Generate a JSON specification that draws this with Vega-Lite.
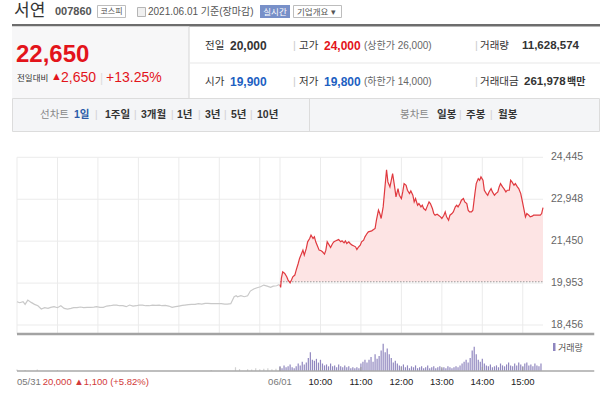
{
"$schema": "https://vega.github.io/schema/vega-lite/v6.json",
"width": 600, "height": 399,
"autosize": {"type": "none"},
"padding": 0,
"background": "white",
"config": {"view": {"stroke": null}, "font": "Liberation Sans, Noto Sans CJK KR", "text": {"baseline": "middle", "align": "left", "font": "Liberation Sans, Noto Sans CJK KR"}},
"data": {"values": [{}]},
"datasets": {
"gridT": [{"t":0},{"t":60},{"t":120},{"t":180},{"t":240},{"t":300},{"t":360},{"t":390},{"t":450},{"t":510},{"t":570},{"t":630},{"t":690},{"t":750}],
"gridP": [{"p":18456},{"p":19953},{"p":21450},{"p":22948},{"p":24445}],
"xl": [{"t":0,"lab":"05/31","kind":"date"},{"t":38,"lab":"20,000 ▲1,100 (+5.82%)","kind":"prev"},{"t":390,"lab":"06/01","kind":"date"},{"t":450,"lab":"10:00","kind":"time"},{"t":510,"lab":"11:00","kind":"time"},{"t":570,"lab":"12:00","kind":"time"},{"t":630,"lab":"13:00","kind":"time"},{"t":690,"lab":"14:00","kind":"time"},{"t":750,"lab":"15:00","kind":"time"}],
"price": [
{"day":"05/31","t":0,"p":19288},{"day":"05/31","t":4,"p":19252},{"day":"05/31","t":9,"p":19288},{"day":"05/31","t":12,"p":19193},{"day":"05/31","t":16,"p":19347},{"day":"05/31","t":21,"p":19264},{"day":"05/31","t":26,"p":19193},{"day":"05/31","t":31,"p":19145},{"day":"05/31","t":36,"p":19027},{"day":"05/31","t":41,"p":19074},{"day":"05/31","t":46,"p":19050},{"day":"05/31","t":50,"p":19086},{"day":"05/31","t":55,"p":19110},{"day":"05/31","t":60,"p":19074},{"day":"05/31","t":65,"p":19145},{"day":"05/31","t":70,"p":19050},{"day":"05/31","t":75,"p":19027},{"day":"05/31","t":80,"p":19050},{"day":"05/31","t":84,"p":19074},{"day":"05/31","t":89,"p":19074},{"day":"05/31","t":94,"p":19098},{"day":"05/31","t":99,"p":19074},{"day":"05/31","t":104,"p":19086},{"day":"05/31","t":109,"p":19086},{"day":"05/31","t":114,"p":19098},{"day":"05/31","t":118,"p":19110},{"day":"05/31","t":123,"p":19086},{"day":"05/31","t":128,"p":19086},{"day":"05/31","t":133,"p":19133},{"day":"05/31","t":138,"p":19145},{"day":"05/31","t":143,"p":19169},{"day":"05/31","t":148,"p":19169},{"day":"05/31","t":152,"p":19145},{"day":"05/31","t":157,"p":19145},{"day":"05/31","t":162,"p":19110},{"day":"05/31","t":167,"p":19169},{"day":"05/31","t":172,"p":19133},{"day":"05/31","t":177,"p":19145},{"day":"05/31","t":181,"p":19169},{"day":"05/31","t":186,"p":19169},{"day":"05/31","t":191,"p":19145},{"day":"05/31","t":196,"p":19145},{"day":"05/31","t":201,"p":19169},{"day":"05/31","t":206,"p":19157},{"day":"05/31","t":211,"p":19169},{"day":"05/31","t":215,"p":19145},{"day":"05/31","t":220,"p":19157},{"day":"05/31","t":225,"p":19133},{"day":"05/31","t":230,"p":19086},{"day":"05/31","t":235,"p":19110},{"day":"05/31","t":240,"p":19133},{"day":"05/31","t":245,"p":19157},{"day":"05/31","t":249,"p":19169},{"day":"05/31","t":254,"p":19181},{"day":"05/31","t":259,"p":19193},{"day":"05/31","t":264,"p":19193},{"day":"05/31","t":269,"p":19217},{"day":"05/31","t":274,"p":19205},{"day":"05/31","t":279,"p":19228},{"day":"05/31","t":283,"p":19228},{"day":"05/31","t":288,"p":19217},{"day":"05/31","t":293,"p":19217},{"day":"05/31","t":298,"p":19217},{"day":"05/31","t":303,"p":19217},{"day":"05/31","t":308,"p":19205},{"day":"05/31","t":312,"p":19205},{"day":"05/31","t":317,"p":19217},{"day":"05/31","t":322,"p":19466},{"day":"05/31","t":325,"p":19502},{"day":"05/31","t":327,"p":19466},{"day":"05/31","t":332,"p":19502},{"day":"05/31","t":337,"p":19466},{"day":"05/31","t":342,"p":19502},{"day":"05/31","t":346,"p":19668},{"day":"05/31","t":351,"p":19740},{"day":"05/31","t":356,"p":19787},{"day":"05/31","t":361,"p":19823},{"day":"05/31","t":366,"p":19882},{"day":"05/31","t":371,"p":19846},{"day":"05/31","t":376,"p":19799},{"day":"05/31","t":380,"p":19846},{"day":"05/31","t":385,"p":19858},{"day":"05/31","t":389,"p":19905},
{"day":"06/01","t":390,"p":19900},{"day":"06/01","t":391,"p":19800},{"day":"06/01","t":392,"p":20120},{"day":"06/01","t":394,"p":20357},{"day":"06/01","t":397,"p":20298},{"day":"06/01","t":400,"p":20179},{"day":"06/01","t":402,"p":20060},{"day":"06/01","t":405,"p":19965},{"day":"06/01","t":407,"p":20060},{"day":"06/01","t":409,"p":20179},{"day":"06/01","t":412,"p":20239},{"day":"06/01","t":414,"p":20417},{"day":"06/01","t":417,"p":20654},{"day":"06/01","t":419,"p":20833},{"day":"06/01","t":422,"p":21011},{"day":"06/01","t":424,"p":21130},{"day":"06/01","t":426,"p":20951},{"day":"06/01","t":429,"p":21189},{"day":"06/01","t":431,"p":21427},{"day":"06/01","t":434,"p":21546},{"day":"06/01","t":436,"p":21664},{"day":"06/01","t":439,"p":21546},{"day":"06/01","t":441,"p":21605},{"day":"06/01","t":443,"p":21427},{"day":"06/01","t":446,"p":21248},{"day":"06/01","t":448,"p":21130},{"day":"06/01","t":451,"p":21106},{"day":"06/01","t":453,"p":21070},{"day":"06/01","t":456,"p":20987},{"day":"06/01","t":458,"p":21130},{"day":"06/01","t":460,"p":21427},{"day":"06/01","t":463,"p":21308},{"day":"06/01","t":465,"p":21225},{"day":"06/01","t":468,"p":21367},{"day":"06/01","t":470,"p":21427},{"day":"06/01","t":473,"p":21462},{"day":"06/01","t":475,"p":21486},{"day":"06/01","t":477,"p":21510},{"day":"06/01","t":480,"p":21427},{"day":"06/01","t":482,"p":21462},{"day":"06/01","t":485,"p":21391},{"day":"06/01","t":487,"p":21462},{"day":"06/01","t":489,"p":21367},{"day":"06/01","t":492,"p":21427},{"day":"06/01","t":494,"p":21367},{"day":"06/01","t":497,"p":21308},{"day":"06/01","t":499,"p":21284},{"day":"06/01","t":502,"p":21248},{"day":"06/01","t":504,"p":21153},{"day":"06/01","t":506,"p":21225},{"day":"06/01","t":509,"p":21308},{"day":"06/01","t":511,"p":21427},{"day":"06/01","t":514,"p":21486},{"day":"06/01","t":516,"p":21605},{"day":"06/01","t":519,"p":21724},{"day":"06/01","t":521,"p":21783},{"day":"06/01","t":526,"p":21819},{"day":"06/01","t":531,"p":21902},{"day":"06/01","t":533,"p":22199},{"day":"06/01","t":536,"p":22556},{"day":"06/01","t":538,"p":22437},{"day":"06/01","t":540,"p":22259},{"day":"06/01","t":543,"p":22674},{"day":"06/01","t":545,"p":23209},{"day":"06/01","t":548,"p":24000},{"day":"06/01","t":550,"p":23566},{"day":"06/01","t":553,"p":23387},{"day":"06/01","t":555,"p":23625},{"day":"06/01","t":557,"p":23863},{"day":"06/01","t":560,"p":23387},{"day":"06/01","t":562,"p":23031},{"day":"06/01","t":565,"p":23328},{"day":"06/01","t":567,"p":23090},{"day":"06/01","t":570,"p":22971},{"day":"06/01","t":572,"p":23209},{"day":"06/01","t":574,"p":23506},{"day":"06/01","t":577,"p":23447},{"day":"06/01","t":579,"p":23269},{"day":"06/01","t":582,"p":23150},{"day":"06/01","t":584,"p":23245},{"day":"06/01","t":587,"p":23090},{"day":"06/01","t":589,"p":22853},{"day":"06/01","t":591,"p":22971},{"day":"06/01","t":594,"p":22734},{"day":"06/01","t":596,"p":22793},{"day":"06/01","t":599,"p":22674},{"day":"06/01","t":601,"p":22734},{"day":"06/01","t":603,"p":22615},{"day":"06/01","t":606,"p":22556},{"day":"06/01","t":608,"p":22674},{"day":"06/01","t":611,"p":22853},{"day":"06/01","t":613,"p":22793},{"day":"06/01","t":616,"p":22615},{"day":"06/01","t":618,"p":22437},{"day":"06/01","t":620,"p":22377},{"day":"06/01","t":623,"p":22413},{"day":"06/01","t":625,"p":22377},{"day":"06/01","t":628,"p":22318},{"day":"06/01","t":630,"p":22258},{"day":"06/01","t":633,"p":22377},{"day":"06/01","t":635,"p":22496},{"day":"06/01","t":637,"p":22318},{"day":"06/01","t":640,"p":22199},{"day":"06/01","t":642,"p":22377},{"day":"06/01","t":645,"p":22437},{"day":"06/01","t":647,"p":22496},{"day":"06/01","t":650,"p":22674},{"day":"06/01","t":652,"p":22734},{"day":"06/01","t":654,"p":22674},{"day":"06/01","t":657,"p":22793},{"day":"06/01","t":659,"p":22912},{"day":"06/01","t":662,"p":22971},{"day":"06/01","t":664,"p":22853},{"day":"06/01","t":667,"p":22793},{"day":"06/01","t":669,"p":22556},{"day":"06/01","t":671,"p":22496},{"day":"06/01","t":674,"p":22496},{"day":"06/01","t":676,"p":22556},{"day":"06/01","t":679,"p":23150},{"day":"06/01","t":681,"p":23506},{"day":"06/01","t":684,"p":23684},{"day":"06/01","t":686,"p":23625},{"day":"06/01","t":688,"p":23744},{"day":"06/01","t":691,"p":23625},{"day":"06/01","t":693,"p":23269},{"day":"06/01","t":696,"p":23150},{"day":"06/01","t":698,"p":23090},{"day":"06/01","t":700,"p":23209},{"day":"06/01","t":703,"p":23328},{"day":"06/01","t":705,"p":23209},{"day":"06/01","t":708,"p":23090},{"day":"06/01","t":710,"p":23150},{"day":"06/01","t":713,"p":23209},{"day":"06/01","t":715,"p":23387},{"day":"06/01","t":717,"p":23506},{"day":"06/01","t":720,"p":23387},{"day":"06/01","t":722,"p":23328},{"day":"06/01","t":725,"p":23209},{"day":"06/01","t":727,"p":23269},{"day":"06/01","t":730,"p":23269},{"day":"06/01","t":732,"p":23625},{"day":"06/01","t":734,"p":23566},{"day":"06/01","t":737,"p":23447},{"day":"06/01","t":739,"p":23506},{"day":"06/01","t":742,"p":23387},{"day":"06/01","t":744,"p":23328},{"day":"06/01","t":747,"p":23150},{"day":"06/01","t":749,"p":22912},{"day":"06/01","t":751,"p":22674},{"day":"06/01","t":754,"p":22318},{"day":"06/01","t":756,"p":22437},{"day":"06/01","t":759,"p":22377},{"day":"06/01","t":761,"p":22318},{"day":"06/01","t":764,"p":22342},{"day":"06/01","t":766,"p":22377},{"day":"06/01","t":768,"p":22377},{"day":"06/01","t":773,"p":22377},{"day":"06/01","t":776,"p":22377},{"day":"06/01","t":778,"p":22437},{"day":"06/01","t":780,"p":22650}
],
"vol": [
{"day":"05/31","t":0,"v":45000},{"day":"05/31","t":12,"v":30000},{"day":"05/31","t":30,"v":45000},{"day":"05/31","t":60,"v":30000},{"day":"05/31","t":288,"v":30000},{"day":"05/31","t":324,"v":120000},{"day":"05/31","t":330,"v":60000},{"day":"05/31","t":342,"v":60000},{"day":"05/31","t":348,"v":45000},{"day":"05/31","t":354,"v":90000},{"day":"05/31","t":360,"v":60000},{"day":"05/31","t":366,"v":75000},{"day":"05/31","t":372,"v":90000},{"day":"05/31","t":378,"v":60000},{"day":"05/31","t":384,"v":75000},
{"day":"06/01","t":390,"v":150000},{"day":"06/01","t":393,"v":90000},{"day":"06/01","t":396,"v":180000},{"day":"06/01","t":399,"v":120000},{"day":"06/01","t":402,"v":150000},{"day":"06/01","t":405,"v":210000},{"day":"06/01","t":408,"v":120000},{"day":"06/01","t":411,"v":90000},{"day":"06/01","t":414,"v":150000},{"day":"06/01","t":417,"v":240000},{"day":"06/01","t":420,"v":180000},{"day":"06/01","t":423,"v":300000},{"day":"06/01","t":426,"v":210000},{"day":"06/01","t":429,"v":270000},{"day":"06/01","t":432,"v":420000},{"day":"06/01","t":435,"v":600000},{"day":"06/01","t":438,"v":360000},{"day":"06/01","t":441,"v":330000},{"day":"06/01","t":444,"v":390000},{"day":"06/01","t":447,"v":270000},{"day":"06/01","t":450,"v":360000},{"day":"06/01","t":453,"v":240000},{"day":"06/01","t":456,"v":180000},{"day":"06/01","t":459,"v":210000},{"day":"06/01","t":462,"v":150000},{"day":"06/01","t":465,"v":240000},{"day":"06/01","t":468,"v":150000},{"day":"06/01","t":471,"v":180000},{"day":"06/01","t":474,"v":120000},{"day":"06/01","t":477,"v":210000},{"day":"06/01","t":480,"v":150000},{"day":"06/01","t":483,"v":120000},{"day":"06/01","t":486,"v":180000},{"day":"06/01","t":489,"v":120000},{"day":"06/01","t":492,"v":150000},{"day":"06/01","t":495,"v":90000},{"day":"06/01","t":498,"v":120000},{"day":"06/01","t":501,"v":90000},{"day":"06/01","t":504,"v":120000},{"day":"06/01","t":507,"v":90000},{"day":"06/01","t":510,"v":240000},{"day":"06/01","t":513,"v":300000},{"day":"06/01","t":516,"v":360000},{"day":"06/01","t":519,"v":270000},{"day":"06/01","t":522,"v":360000},{"day":"06/01","t":525,"v":450000},{"day":"06/01","t":528,"v":300000},{"day":"06/01","t":531,"v":540000},{"day":"06/01","t":534,"v":390000},{"day":"06/01","t":537,"v":480000},{"day":"06/01","t":540,"v":660000},{"day":"06/01","t":543,"v":870000},{"day":"06/01","t":546,"v":600000},{"day":"06/01","t":549,"v":720000},{"day":"06/01","t":552,"v":540000},{"day":"06/01","t":555,"v":420000},{"day":"06/01","t":558,"v":270000},{"day":"06/01","t":561,"v":330000},{"day":"06/01","t":564,"v":240000},{"day":"06/01","t":567,"v":180000},{"day":"06/01","t":570,"v":150000},{"day":"06/01","t":573,"v":210000},{"day":"06/01","t":576,"v":120000},{"day":"06/01","t":579,"v":180000},{"day":"06/01","t":582,"v":90000},{"day":"06/01","t":585,"v":150000},{"day":"06/01","t":588,"v":120000},{"day":"06/01","t":591,"v":180000},{"day":"06/01","t":594,"v":90000},{"day":"06/01","t":597,"v":120000},{"day":"06/01","t":600,"v":150000},{"day":"06/01","t":603,"v":90000},{"day":"06/01","t":606,"v":120000},{"day":"06/01","t":609,"v":180000},{"day":"06/01","t":612,"v":90000},{"day":"06/01","t":615,"v":120000},{"day":"06/01","t":618,"v":150000},{"day":"06/01","t":621,"v":90000},{"day":"06/01","t":624,"v":120000},{"day":"06/01","t":627,"v":150000},{"day":"06/01","t":630,"v":90000},{"day":"06/01","t":633,"v":120000},{"day":"06/01","t":636,"v":90000},{"day":"06/01","t":639,"v":150000},{"day":"06/01","t":642,"v":120000},{"day":"06/01","t":645,"v":90000},{"day":"06/01","t":648,"v":120000},{"day":"06/01","t":651,"v":150000},{"day":"06/01","t":654,"v":120000},{"day":"06/01","t":657,"v":180000},{"day":"06/01","t":660,"v":240000},{"day":"06/01","t":663,"v":300000},{"day":"06/01","t":666,"v":360000},{"day":"06/01","t":669,"v":270000},{"day":"06/01","t":672,"v":420000},{"day":"06/01","t":675,"v":660000},{"day":"06/01","t":678,"v":780000},{"day":"06/01","t":681,"v":540000},{"day":"06/01","t":684,"v":360000},{"day":"06/01","t":687,"v":300000},{"day":"06/01","t":690,"v":390000},{"day":"06/01","t":693,"v":240000},{"day":"06/01","t":696,"v":180000},{"day":"06/01","t":699,"v":150000},{"day":"06/01","t":702,"v":210000},{"day":"06/01","t":705,"v":120000},{"day":"06/01","t":708,"v":150000},{"day":"06/01","t":711,"v":180000},{"day":"06/01","t":714,"v":120000},{"day":"06/01","t":717,"v":240000},{"day":"06/01","t":720,"v":180000},{"day":"06/01","t":723,"v":150000},{"day":"06/01","t":726,"v":210000},{"day":"06/01","t":729,"v":270000},{"day":"06/01","t":732,"v":180000},{"day":"06/01","t":735,"v":150000},{"day":"06/01","t":738,"v":240000},{"day":"06/01","t":741,"v":180000},{"day":"06/01","t":744,"v":270000},{"day":"06/01","t":747,"v":210000},{"day":"06/01","t":750,"v":150000},{"day":"06/01","t":753,"v":240000},{"day":"06/01","t":756,"v":270000},{"day":"06/01","t":759,"v":180000},{"day":"06/01","t":762,"v":210000},{"day":"06/01","t":765,"v":150000},{"day":"06/01","t":768,"v":240000},{"day":"06/01","t":771,"v":180000},{"day":"06/01","t":774,"v":150000},{"day":"06/01","t":777,"v":240000}
]
},
"resolve": {"scale": {"y": "independent", "color": "independent", "fill": "independent"}},
"layer": [
{"mark": {"type": "rect", "color": "#6d6d6d"}, "encoding": {"x": {"value": 12}, "x2": {"value": 600}, "y": {"value": 24}, "y2": {"value": 26.5}}},
{"mark": {"type": "rect", "color": "#f7f7f8"}, "encoding": {"x": {"value": 12}, "x2": {"value": 189}, "y": {"value": 26.5}, "y2": {"value": 98}}},
{"mark": {"type": "rect", "color": "#d6d6d6"}, "encoding": {"x": {"value": 188.5}, "x2": {"value": 189.5}, "y": {"value": 26.5}, "y2": {"value": 98}}},
{"mark": {"type": "rect", "color": "#e8e8e8"}, "encoding": {"x": {"value": 190}, "x2": {"value": 600}, "y": {"value": 62.5}, "y2": {"value": 63.5}}},
{"mark": {"type": "rect", "fill": "#f4f5f7", "stroke": "#dcdcdc", "strokeWidth": 1}, "encoding": {"x": {"value": 12.5}, "x2": {"value": 599.5}, "y": {"value": 98.5}, "y2": {"value": 131.5}}},
{"mark": {"type": "rect", "color": "#dcdcdc"}, "encoding": {"x": {"value": 309}, "x2": {"value": 310}, "y": {"value": 99}, "y2": {"value": 131}}},
{"mark": {"type": "rect", "fill": "#ffffff", "stroke": "#bdbdbd", "strokeWidth": 1}, "encoding": {"x": {"value": 97.5}, "x2": {"value": 125.5}, "y": {"value": 5.5}, "y2": {"value": 17.5}}},
{"mark": {"type": "rect", "fill": "#f0f0f0", "stroke": "#b5b5b5", "strokeWidth": 1}, "encoding": {"x": {"value": 137.5}, "x2": {"value": 145.5}, "y": {"value": 7.5}, "y2": {"value": 16.5}}},
{"mark": {"type": "rect", "color": "#7890c8"}, "encoding": {"x": {"value": 260}, "x2": {"value": 290}, "y": {"value": 5}, "y2": {"value": 18}}},
{"mark": {"type": "rect", "fill": "#ffffff", "stroke": "#bdbdbd", "strokeWidth": 1}, "encoding": {"x": {"value": 293.5}, "x2": {"value": 341.5}, "y": {"value": 5.5}, "y2": {"value": 17.5}}},
{"layer": [
 {"data": {"name": "gridT"}, "mark": {"type": "rule", "color": "#ebebeb", "strokeWidth": 1}, "encoding": {"x": {"field": "t", "type": "quantitative", "scale": {"domain": [0, 780], "range": [12, 548], "nice": false, "zero": false}, "axis": null}, "y": {"datum": 24445, "type": "quantitative", "scale": {"domain": [18135, 24445], "range": [334, 157.3], "nice": false, "zero": false}, "axis": null}, "y2": {"datum": 18135}}},
 {"data": {"name": "gridP"}, "mark": {"type": "rule", "color": "#ebebeb", "strokeWidth": 1}, "encoding": {"y": {"field": "p", "type": "quantitative", "scale": {"domain": [18135, 24445], "range": [334, 157.3], "nice": false, "zero": false}, "axis": null}, "x": {"datum": 0, "type": "quantitative", "scale": {"domain": [0, 780], "range": [12, 548], "nice": false, "zero": false}, "axis": null}, "x2": {"datum": 780}}},
 {"data": {"name": "gridP"}, "mark": {"type": "text", "dx": 8, "fontSize": 10.5, "color": "#666666", "align": "left", "baseline": "middle"}, "encoding": {"y": {"field": "p", "type": "quantitative", "scale": {"domain": [18135, 24445], "range": [334, 157.3], "nice": false, "zero": false}, "axis": null}, "x": {"datum": 780, "type": "quantitative", "scale": {"domain": [0, 780], "range": [12, 548], "nice": false, "zero": false}, "axis": null}, "text": {"field": "p", "type": "quantitative", "format": ",d"}}},
 {"data": {"name": "price"}, "transform": [{"filter": "datum.day == '06/01'"}], "mark": {"type": "area", "color": "#fde4e4", "opacity": 1}, "encoding": {"x": {"field": "t", "type": "quantitative", "scale": {"domain": [0, 780], "range": [12, 548], "nice": false, "zero": false}, "axis": null}, "y": {"field": "p", "type": "quantitative", "scale": {"domain": [18135, 24445], "range": [334, 157.3], "nice": false, "zero": false}, "axis": null}, "y2": {"datum": 20000}}},
 {"mark": {"type": "rule", "color": "#9a9a9a", "strokeDash": [1.5, 1.5], "strokeWidth": 1}, "encoding": {"x": {"datum": 390, "type": "quantitative", "scale": {"domain": [0, 780], "range": [12, 548], "nice": false, "zero": false}, "axis": null}, "x2": {"datum": 780}, "y": {"datum": 20000, "type": "quantitative", "scale": {"domain": [18135, 24445], "range": [334, 157.3], "nice": false, "zero": false}, "axis": null}}},
 {"data": {"name": "price"}, "mark": {"type": "line", "strokeWidth": 1.2}, "encoding": {
   "x": {"field": "t", "type": "quantitative", "scale": {"domain": [0, 780], "range": [12, 548], "nice": false, "zero": false}, "axis": null},
   "y": {"field": "p", "type": "quantitative", "scale": {"domain": [18135, 24445], "range": [334, 157.3], "nice": false, "zero": false}, "axis": null},
   "color": {"field": "day", "type": "nominal", "scale": {"domain": ["05/31", "06/01"], "range": ["#c9c9c9", "#e0393f"]}, "legend": null}}},
 {"mark": {"type": "rule", "color": "#a3a3a3", "strokeWidth": 2.5}, "encoding": {"x": {"datum": 0, "type": "quantitative", "scale": {"domain": [0, 780], "range": [12, 548], "nice": false, "zero": false}, "axis": null}, "x2": {"datum": 856}, "y": {"datum": 18135, "type": "quantitative", "scale": {"domain": [18135, 24445], "range": [334, 157.3], "nice": false, "zero": false}, "axis": null}}}
]},
{"layer": [
 {"data": {"name": "vol"}, "mark": {"type": "bar", "width": 1.2}, "encoding": {"x": {"field": "t", "type": "quantitative", "scale": {"domain": [0, 780], "range": [12, 548], "nice": false, "zero": false}, "axis": null}, "y": {"field": "v", "type": "quantitative", "scale": {"domain": [0, 930000], "range": [371, 342], "nice": false}, "axis": null}, "color": {"field": "day", "type": "nominal", "scale": {"domain": ["05/31", "06/01"], "range": ["#d2d2d2", "#9087bf"]}, "legend": null}}},
 {"mark": {"type": "rule", "color": "#a8a8a8", "strokeWidth": 1.5}, "encoding": {"x": {"datum": 0, "type": "quantitative", "scale": {"domain": [0, 780], "range": [12, 548], "nice": false, "zero": false}, "axis": null}, "x2": {"datum": 856}, "y": {"datum": 0, "type": "quantitative", "scale": {"domain": [0, 930000], "range": [371, 342], "nice": false}, "axis": null}}},
 {"data": {"name": "xl"}, "transform": [{"filter": "datum.t >= 390"}], "mark": {"type": "rule", "color": "#999999", "strokeWidth": 1}, "encoding": {"x": {"field": "t", "type": "quantitative", "scale": {"domain": [0, 780], "range": [12, 548], "nice": false, "zero": false}, "axis": null}, "y": {"datum": 0, "type": "quantitative", "scale": {"domain": [0, 930000], "range": [371, 342], "nice": false}, "axis": null}, "y2": {"datum": 130000}}},
 {"data": {"name": "xl"}, "transform": [{"filter": "datum.t < 100"}], "mark": {"type": "text", "dy": 11, "align": "left", "baseline": "middle", "fontSize": 9.5}, "encoding": {"x": {"field": "t", "type": "quantitative", "scale": {"domain": [0, 780], "range": [12, 548], "nice": false, "zero": false}, "axis": null}, "y": {"datum": 0, "type": "quantitative", "scale": {"domain": [0, 930000], "range": [371, 342], "nice": false}, "axis": null}, "text": {"field": "lab"}, "fill": {"field": "kind", "type": "nominal", "scale": {"domain": ["date", "time", "prev"], "range": ["#777777", "#222222", "#d23a3a"]}, "legend": null}}},
 {"data": {"name": "xl"}, "transform": [{"filter": "datum.t >= 100"}], "mark": {"type": "text", "dy": 11, "align": "center", "baseline": "middle", "fontSize": 9.5}, "encoding": {"x": {"field": "t", "type": "quantitative", "scale": {"domain": [0, 780], "range": [12, 548], "nice": false, "zero": false}, "axis": null}, "y": {"datum": 0, "type": "quantitative", "scale": {"domain": [0, 930000], "range": [371, 342], "nice": false}, "axis": null}, "text": {"field": "lab"}, "fill": {"field": "kind", "type": "nominal", "scale": {"domain": ["date", "time", "prev"], "range": ["#777777", "#222222", "#d23a3a"]}, "legend": null}}}
]},
{"mark": {"type": "text", "text": "서연", "fontSize": 17, "color": "#333333"}, "encoding": {"x": {"value": 14}, "y": {"value": 11}}},
{"mark": {"type": "text", "text": "007860", "fontSize": 11, "fontWeight": "bold", "color": "#555555"}, "encoding": {"x": {"value": 55}, "y": {"value": 12}}},
{"mark": {"type": "text", "text": "코스피", "fontSize": 8, "color": "#555555", "align": "center"}, "encoding": {"x": {"value": 111.5}, "y": {"value": 11.5}}},
{"mark": {"type": "text", "text": "2021.06.01 기준(장마감)", "fontSize": 10, "color": "#555555"}, "encoding": {"x": {"value": 148}, "y": {"value": 12}}},
{"mark": {"type": "text", "text": "실시간", "fontSize": 8.5, "color": "#ffffff", "align": "center"}, "encoding": {"x": {"value": 275}, "y": {"value": 11.5}}},
{"mark": {"type": "text", "text": "기업개요 ▾", "fontSize": 8.5, "color": "#555555"}, "encoding": {"x": {"value": 297}, "y": {"value": 11.5}}},
{"mark": {"type": "text", "text": "22,650", "fontSize": 24, "fontWeight": "bold", "color": "#e3141b"}, "encoding": {"x": {"value": 16}, "y": {"value": 55}}},
{"mark": {"type": "text", "text": "전일대비", "fontSize": 8.5, "color": "#333333"}, "encoding": {"x": {"value": 17}, "y": {"value": 78}}},
{"mark": {"type": "text", "text": "▲", "fontSize": 11, "color": "#e3141b"}, "encoding": {"x": {"value": 51}, "y": {"value": 77}}},
{"mark": {"type": "text", "text": "2,650", "fontSize": 14, "color": "#e3141b"}, "encoding": {"x": {"value": 61}, "y": {"value": 78}}},
{"mark": {"type": "text", "text": "|", "fontSize": 12, "color": "#dddddd"}, "encoding": {"x": {"value": 100}, "y": {"value": 78}}},
{"mark": {"type": "text", "text": "+13.25%", "fontSize": 14, "color": "#e3141b"}, "encoding": {"x": {"value": 106}, "y": {"value": 78}}},
{"mark": {"type": "text", "text": "전일", "fontSize": 10.5, "color": "#333333"}, "encoding": {"x": {"value": 205}, "y": {"value": 45.5}}},
{"mark": {"type": "text", "text": "20,000", "fontSize": 12, "fontWeight": "bold", "color": "#333333"}, "encoding": {"x": {"value": 230}, "y": {"value": 45.5}}},
{"mark": {"type": "text", "text": "시가", "fontSize": 10.5, "color": "#333333"}, "encoding": {"x": {"value": 205}, "y": {"value": 82}}},
{"mark": {"type": "text", "text": "19,900", "fontSize": 12, "fontWeight": "bold", "color": "#1d5fc2"}, "encoding": {"x": {"value": 230}, "y": {"value": 82}}},
{"mark": {"type": "text", "text": "|", "fontSize": 11, "color": "#cccccc"}, "encoding": {"x": {"value": 293}, "y": {"value": 45.5}}},
{"mark": {"type": "text", "text": "|", "fontSize": 11, "color": "#cccccc"}, "encoding": {"x": {"value": 293}, "y": {"value": 82}}},
{"mark": {"type": "text", "text": "고가", "fontSize": 10.5, "color": "#333333"}, "encoding": {"x": {"value": 299}, "y": {"value": 45.5}}},
{"mark": {"type": "text", "text": "24,000", "fontSize": 12, "fontWeight": "bold", "color": "#e3141b"}, "encoding": {"x": {"value": 324}, "y": {"value": 45.5}}},
{"mark": {"type": "text", "text": "(상한가 26,000)", "fontSize": 10, "color": "#666666"}, "encoding": {"x": {"value": 364}, "y": {"value": 45.5}}},
{"mark": {"type": "text", "text": "저가", "fontSize": 10.5, "color": "#333333"}, "encoding": {"x": {"value": 299}, "y": {"value": 82}}},
{"mark": {"type": "text", "text": "19,800", "fontSize": 12, "fontWeight": "bold", "color": "#1d5fc2"}, "encoding": {"x": {"value": 324}, "y": {"value": 82}}},
{"mark": {"type": "text", "text": "(하한가 14,000)", "fontSize": 10, "color": "#666666"}, "encoding": {"x": {"value": 364}, "y": {"value": 82}}},
{"mark": {"type": "text", "text": "|", "fontSize": 11, "color": "#cccccc"}, "encoding": {"x": {"value": 475}, "y": {"value": 45.5}}},
{"mark": {"type": "text", "text": "|", "fontSize": 11, "color": "#cccccc"}, "encoding": {"x": {"value": 475}, "y": {"value": 82}}},
{"mark": {"type": "text", "text": "거래량", "fontSize": 10.5, "color": "#333333"}, "encoding": {"x": {"value": 480}, "y": {"value": 45.5}}},
{"mark": {"type": "text", "text": "11,628,574", "fontSize": 11.5, "fontWeight": "bold", "color": "#333333"}, "encoding": {"x": {"value": 522}, "y": {"value": 45.5}}},
{"mark": {"type": "text", "text": "거래대금", "fontSize": 10.5, "color": "#333333"}, "encoding": {"x": {"value": 480}, "y": {"value": 82}}},
{"mark": {"type": "text", "text": "261,978", "fontSize": 11.5, "fontWeight": "bold", "color": "#333333"}, "encoding": {"x": {"value": 524}, "y": {"value": 82}}},
{"mark": {"type": "text", "text": "백만", "fontSize": 10, "fontWeight": "bold", "color": "#333333"}, "encoding": {"x": {"value": 567}, "y": {"value": 82}}},
{"mark": {"type": "text", "text": "선차트", "fontSize": 10.5, "color": "#888888"}, "encoding": {"x": {"value": 40}, "y": {"value": 115}}},
{"mark": {"type": "text", "text": "1일", "fontSize": 10.5, "fontWeight": "bold", "color": "#2a5aa8"}, "encoding": {"x": {"value": 74}, "y": {"value": 115}}},
{"mark": {"type": "text", "text": "1주일", "fontSize": 10.5, "fontWeight": "bold", "color": "#333333"}, "encoding": {"x": {"value": 105}, "y": {"value": 115}}},
{"mark": {"type": "text", "text": "3개월", "fontSize": 10.5, "fontWeight": "bold", "color": "#333333"}, "encoding": {"x": {"value": 141}, "y": {"value": 115}}},
{"mark": {"type": "text", "text": "1년", "fontSize": 10.5, "fontWeight": "bold", "color": "#333333"}, "encoding": {"x": {"value": 177}, "y": {"value": 115}}},
{"mark": {"type": "text", "text": "3년", "fontSize": 10.5, "fontWeight": "bold", "color": "#333333"}, "encoding": {"x": {"value": 205}, "y": {"value": 115}}},
{"mark": {"type": "text", "text": "5년", "fontSize": 10.5, "fontWeight": "bold", "color": "#333333"}, "encoding": {"x": {"value": 231}, "y": {"value": 115}}},
{"mark": {"type": "text", "text": "10년", "fontSize": 10.5, "fontWeight": "bold", "color": "#333333"}, "encoding": {"x": {"value": 257}, "y": {"value": 115}}},
{"mark": {"type": "text", "text": "|", "fontSize": 10, "color": "#d0d0d0"}, "encoding": {"x": {"value": 95}, "y": {"value": 115}}},
{"mark": {"type": "text", "text": "|", "fontSize": 10, "color": "#d0d0d0"}, "encoding": {"x": {"value": 134}, "y": {"value": 115}}},
{"mark": {"type": "text", "text": "|", "fontSize": 10, "color": "#d0d0d0"}, "encoding": {"x": {"value": 171}, "y": {"value": 115}}},
{"mark": {"type": "text", "text": "|", "fontSize": 10, "color": "#d0d0d0"}, "encoding": {"x": {"value": 198}, "y": {"value": 115}}},
{"mark": {"type": "text", "text": "|", "fontSize": 10, "color": "#d0d0d0"}, "encoding": {"x": {"value": 224}, "y": {"value": 115}}},
{"mark": {"type": "text", "text": "|", "fontSize": 10, "color": "#d0d0d0"}, "encoding": {"x": {"value": 250}, "y": {"value": 115}}},
{"mark": {"type": "text", "text": "봉차트", "fontSize": 10.5, "color": "#888888"}, "encoding": {"x": {"value": 400}, "y": {"value": 115}}},
{"mark": {"type": "text", "text": "일봉", "fontSize": 10.5, "fontWeight": "bold", "color": "#333333"}, "encoding": {"x": {"value": 437}, "y": {"value": 115}}},
{"mark": {"type": "text", "text": "|", "fontSize": 10, "color": "#d0d0d0"}, "encoding": {"x": {"value": 459}, "y": {"value": 115}}},
{"mark": {"type": "text", "text": "주봉", "fontSize": 10.5, "fontWeight": "bold", "color": "#333333"}, "encoding": {"x": {"value": 466}, "y": {"value": 115}}},
{"mark": {"type": "text", "text": "|", "fontSize": 10, "color": "#d0d0d0"}, "encoding": {"x": {"value": 490}, "y": {"value": 115}}},
{"mark": {"type": "text", "text": "월봉", "fontSize": 10.5, "fontWeight": "bold", "color": "#333333"}, "encoding": {"x": {"value": 498}, "y": {"value": 115}}},
{"mark": {"type": "rect", "color": "#8f86bf"}, "encoding": {"x": {"value": 553}, "x2": {"value": 555.5}, "y": {"value": 343}, "y2": {"value": 351}}},
{"mark": {"type": "text", "text": "거래량", "fontSize": 9, "color": "#555555"}, "encoding": {"x": {"value": 558}, "y": {"value": 347.5}}}
]
}
